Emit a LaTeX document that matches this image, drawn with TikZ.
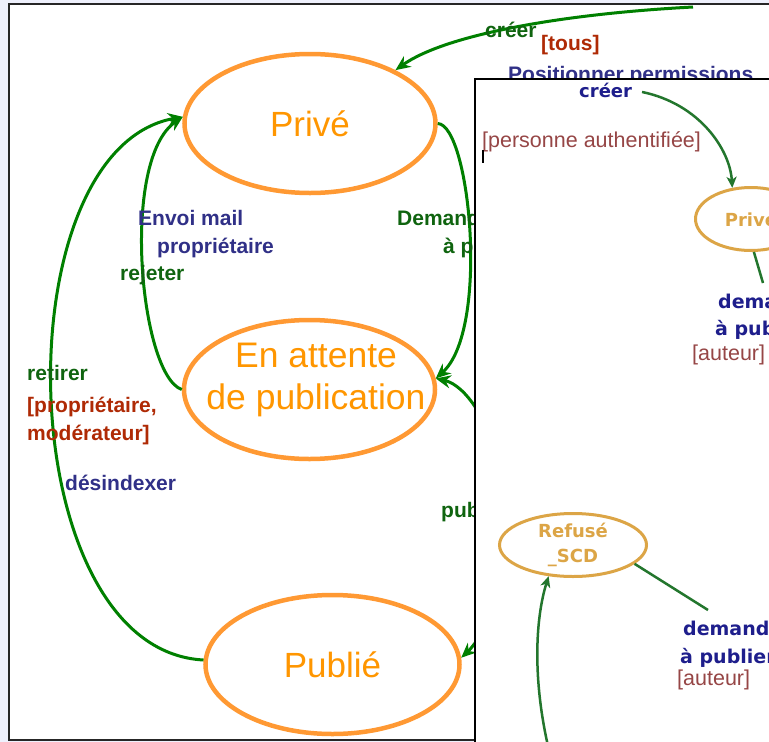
\documentclass[tikz,border=0pt]{standalone}
\usepackage{fontspec}
\setmainfont{Liberation Sans}
\newfontfamily\petitefonte{DejaVu Sans}
\usetikzlibrary{positioning,shapes.geometric,arrows.meta}

\definecolor{fondlavande}{RGB}{238,240,252}
\definecolor{etatorange}{RGB}{255,153,51}
\definecolor{texteorange}{RGB}{255,150,0}
\definecolor{flechevert}{RGB}{0,128,0}
\definecolor{vertfonce}{RGB}{15,100,15}
\definecolor{bleunuit}{RGB}{48,48,135}
\definecolor{rougebrique}{RGB}{175,42,5}
\definecolor{orpale}{RGB}{220,165,70}
\definecolor{petitvert}{RGB}{35,118,45}
\definecolor{petitbleu}{RGB}{30,30,140}
\definecolor{petitrouge}{RGB}{150,70,70}

\begin{document}
\begin{tikzpicture}[x=1pt,y=-1pt]
    \useasboundingbox (0,0) rectangle (769,742);
    \fill[fondlavande] (0,0) rectangle (769,742);
    %%%%% THE BIG SCREENSHOT
    \draw[draw=black!85,line width=2pt,fill=white] (9,4) rectangle (800,740);
    \begin{scope}[etat/.style={ellipse,draw=etatorange,line width=4.5pt,text=texteorange,
            font=\fontsize{35}{42}\selectfont,align=center,inner sep=0pt,
            minimum width=251pt,minimum height=139pt},
        texteetat/.style={text=texteorange,font=\fontsize{35.5}{42}\selectfont,align=center,inner sep=0pt},
        fleche/.style={flechevert,line width=3pt,-{Stealth[length=15pt,width=13pt,inset=5pt]}},
        etiquette/.style={font=\fontsize{21}{25}\selectfont\bfseries,anchor=base west,inner sep=0pt}]
      \node[etat] (PRIVE) at (310,123.5) {Privé};
      \node[etat] (ATTENTE) at (309.5,389.5) {};
      \node[texteetat] (ATTENTETEXTE) at (316,380) {En attente\\de publication};
      \node[etat,minimum width=254pt] (PUBLIE) at (332.5,664.5) {Publié};
      % loose ends of the arrows
      \coordinate (HAUT) at (693,7);
      \coordinate (DROITE1) at (505,480);
      \coordinate (DROITE2) at (510,600);
      % transitions
      \draw[fleche] (HAUT) .. controls (560,14) and (445,35) .. (PRIVE.32);
      \draw[fleche] (PRIVE.east) .. controls (470,125) and (490,330) .. (ATTENTE.5);
      \draw[fleche] (DROITE1) .. controls (490,420) and (465,385) .. (ATTENTE.5);
      \draw[fleche] (ATTENTE.west) .. controls (140,375) and (120,160) .. (PRIVE.177);
      \draw[fleche] (PUBLIE.178) .. controls (10,650) and (0,150) .. (PRIVE.177);
      \draw[fleche] (DROITE2) .. controls (490,620) and (475,645) .. (PUBLIE.3);
      % labels
      \node[etiquette,text=vertfonce] (CREER) at (485,37) {créer};
      \node[etiquette,text=rougebrique] (TOUS) at (541,50) {[tous]};
      \node[etiquette,text=bleunuit] (PERMS) at (508,81) {Positionner permissions};
      \node[etiquette,text=bleunuit] (MAIL1) at (138,225) {Envoi mail};
      \node[etiquette,text=bleunuit] (MAIL2) at (157,253) {propriétaire};
      \node[etiquette,text=vertfonce] (REJETER) at (120,280) {rejeter};
      \node[etiquette,text=vertfonce] (DEMANDE1) at (397,225) {Demande};
      \node[etiquette,text=vertfonce] (DEMANDE2) at (443,253) {à publier};
      \node[etiquette,text=vertfonce] (RETIRER) at (27,380) {retirer};
      \node[etiquette,text=rougebrique] (QUI1) at (27,412) {[propriétaire,};
      \node[etiquette,text=rougebrique] (QUI2) at (27,440) {modérateur]};
      \node[etiquette,text=bleunuit] (DESINDEX) at (65,490) {désindexer};
      \node[etiquette,text=vertfonce] (PUBLIER) at (441,517) {publier};
    \end{scope}
    %%%%% THE SMALL SCREENSHOT ON TOP
    \draw[draw=black,line width=2pt,fill=white] (475,79) rectangle (800,800);
    \begin{scope}[petitetat/.style={ellipse,draw=orpale,line width=3pt,text=orpale,
            font=\petitefonte\fontsize{18}{25}\selectfont\bfseries,align=center,inner sep=0pt},
        petitefleche/.style={petitvert,line width=2.5pt,-{Stealth[length=11pt,width=10pt,inset=3pt]}},
        petittrait/.style={petitvert,line width=2.5pt},
        action/.style={font=\petitefonte\fontsize{19}{27}\selectfont\bfseries,text=petitbleu,anchor=base west,inner sep=0pt},
        garde/.style={font=\fontsize{21.5}{25}\selectfont,text=petitrouge,anchor=base west,inner sep=0pt}]
      \node[petitetat,minimum width=111pt,minimum height=63pt] (PPRIVE) at (751,219) {Privé};
      \node[petitetat,minimum width=147pt,minimum height=63pt] (REFUSE) at (573,545) {Refusé\\\_SCD};
      \node[action,font=\petitefonte\fontsize{18}{25}\selectfont\bfseries] (PCREER) at (579,97) {créer};
      \node[garde] (AUTH) at (482,147) {[personne authentifiée]};
      \draw[black,line width=2pt] (483,150) -- (483,163);
      \node[action] (PDEM1) at (718,308) {demande};
      \node[action] (PDEM2) at (715,335) {à publier};
      \node[garde] (PAUT1) at (692,360) {[auteur]};
      \node[action] (RDEM1) at (683,635) {demande};
      \node[action] (RDEM2) at (680,663) {à publier};
      \node[garde] (RAUT1) at (677,685) {[auteur]};
      % connectors
      \coordinate (PBAS) at (763,283);
      \coordinate (RBAS) at (708,610);
      \coordinate (RDEPART) at (548,746);
      \draw[petitefleche,shorten <=10pt] (PCREER.east) .. controls (700,104) and (730,150) .. (PPRIVE.121);
      \draw[petittrait] (PPRIVE.-85) -- (PBAS);
      \draw[petittrait] (REFUSE.-17) -- (RBAS);
      \draw[petitefleche] (RDEPART) .. controls (533,680) and (535,620) .. (REFUSE.-128);
    \end{scope}
\end{tikzpicture}
\end{document}
